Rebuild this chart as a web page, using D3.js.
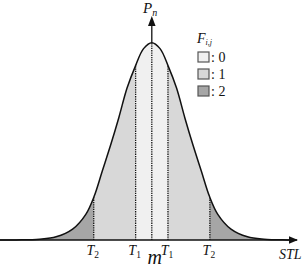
<!DOCTYPE html>
<html>
<head>
<meta charset="utf-8">
<script src="https://cdnjs.cloudflare.com/ajax/libs/d3/7.8.5/d3.min.js"></script>
<style>
	body { margin: 0; background: #fff; }
	svg { display: block; }
	svg text { font-family: "Liberation Serif", "DejaVu Serif", serif; fill: #111; }
</style>
</head>
<body>
<svg width="303" height="271"></svg>
<script>

// courbe (STL en unites de sigma, Pn normalise au pic)
var stlValues = [-4.6, -4.1, -3.4, -2.9, -2.4, -2.0, -1.75, -1.5, -1.25, -1.0, -0.75, -0.5, -0.25, 0,
                 0.25, 0.5, 0.75, 1.0, 1.25, 1.5, 1.75, 2.0, 2.4, 2.9, 3.4, 4.1, 4.4];
var pnValues  = [0, 0.0005, 0.004, 0.016, 0.055, 0.13, 0.22, 0.35, 0.48, 0.62, 0.77, 0.88, 0.97, 1.0,
                 0.97, 0.88, 0.77, 0.62, 0.48, 0.35, 0.22, 0.13, 0.055, 0.016, 0.004, 0.0005, 0.0002];

// seuils T2 T1 T1 T2
var thresholdValues = [-1.76, -0.49, 0.49, 1.76];
var thresholdSubs   = ["2", "1", "1", "2"];

// zones F_i,j
var zoneBounds = [-4.6, -1.76, -0.49, 0.49, 1.76, 4.4];
var zoneClass  = [2, 1, 0, 1, 2];
var legendClasses = [0, 1, 2];

window.onload = function () {
	start();
}

function start() {
	var svg = d3.select("svg");
	var axisY = 240;
	var serif = "'Liberation Serif', 'DejaVu Serif', serif";

	var x = d3.scaleLinear().domain([-4.6, 4.4]).range([0, 297]);
	var y = d3.scaleLinear().domain([0, 1]).range([axisY, 42.7]);

	var color = d3.scaleOrdinal()
	    .domain([0, 1, 2])
	    .range(["#f0f0f0", "#d8d8d8", "#a6a6a6"]);

	var points = stlValues.map(function(v, i) { return [v, pnValues[i]]; });

	var area = d3.area()
	    .x(function(d) { return x(d[0]); })
	    .y0(axisY)
	    .y1(function(d) { return y(d[1]); })
	    .curve(d3.curveCatmullRom);

	var line = d3.line()
	    .x(function(d) { return x(d[0]); })
	    .y(function(d) { return y(d[1]); })
	    .curve(d3.curveCatmullRom);

	svg.append("clipPath")
	    .attr("id", "under")
	  .append("path")
	    .attr("d", area(points));

	var g = svg.append("g").attr("clip-path", "url(#under)");

	// les zones
	g.selectAll("rect.zone")
	    .data(zoneClass)
	    .enter().append("rect")
	    .attr("class", "zone")
	    .attr("x", function(d, i) { return x(zoneBounds[i]); })
	    .attr("width", function(d, i) { return x(zoneBounds[i + 1]) - x(zoneBounds[i]); })
	    .attr("y", 0)
	    .attr("height", axisY)
	    .style("fill", function(d) { return color(d); });

	// pointilles (seuils + moyenne)
	g.selectAll("line.seuil")
	    .data(thresholdValues.concat([0]))
	    .enter().append("line")
	    .attr("class", "seuil")
	    .attr("x1", function(d) { return x(d); })
	    .attr("x2", function(d) { return x(d); })
	    .attr("y1", axisY)
	    .attr("y2", 0)
	    .style("stroke", "#111")
	    .style("stroke-width", 1.3)
	    .style("stroke-dasharray", "1.3,1");

	svg.append("path")
	    .attr("d", line(points))
	    .style("fill", "none")
	    .style("stroke", "#111")
	    .style("stroke-width", 1.5);

	// axes + fleches
	svg.append("line")
	    .attr("x1", 0).attr("x2", 291)
	    .attr("y1", axisY).attr("y2", axisY)
	    .style("stroke", "#111").style("stroke-width", 1.4);
	svg.append("path")
	    .attr("d", "M298," + axisY + "L289," + (axisY - 3.8) + "L289," + (axisY + 3.8) + "Z")
	    .style("fill", "#111");

	svg.append("line")
	    .attr("x1", x(0)).attr("x2", x(0))
	    .attr("y1", y(1)).attr("y2", 24)
	    .style("stroke", "#111").style("stroke-width", 1.3);
	svg.append("path")
	    .attr("d", "M" + x(0) + ",16L" + (x(0) - 3.8) + ",26L" + (x(0) + 3.8) + ",26Z")
	    .style("fill", "#111");

	// labels T
	var tl = svg.selectAll("text.tick")
	    .data(thresholdValues)
	    .enter().append("text")
	    .attr("class", "tick")
	    .attr("x", function(d) { return x(d) - 1; })
	    .attr("y", 255)
	    .attr("text-anchor", "middle")
	    .style("font-family", serif)
	    .style("font-size", "14px");
	tl.append("tspan").style("font-style", "italic").text("T");
	tl.append("tspan").attr("dy", 2.5).style("font-size", "9.5px")
	    .text(function(d, i) { return thresholdSubs[i]; });

	svg.append("text")
	    .attr("x", x(0) + 3).attr("y", 264)
	    .attr("text-anchor", "middle")
	    .style("font-family", serif)
	    .style("font-size", "20px").style("font-style", "italic")
	    .text("m");

	svg.append("text")
	    .attr("x", 279).attr("y", 259)
	    .style("font-family", serif)
	    .style("font-size", "14px").style("font-style", "italic")
	    .text("STL");

	var pn = svg.append("text")
	    .attr("x", 143).attr("y", 13)
	    .style("font-family", serif)
	    .style("font-size", "15px");
	pn.append("tspan").style("font-style", "italic").text("P");
	pn.append("tspan").attr("dy", 3).style("font-size", "10px").style("font-style", "italic").text("n");

	// legende
	var fl = svg.append("text")
	    .attr("x", 197).attr("y", 42.5)
	    .style("font-family", serif)
	    .style("font-size", "14px");
	fl.append("tspan").style("font-style", "italic").text("F");
	fl.append("tspan").attr("dy", 2.5).style("font-size", "8px").style("font-style", "italic").text("i,j");

	var leg = svg.selectAll("g.leg")
	    .data(legendClasses)
	    .enter().append("g")
	    .attr("class", "leg")
	    .attr("transform", function(d, i) { return "translate(198," + (52 + i * 17) + ")"; });
	leg.append("rect")
	    .attr("width", 11).attr("height", 10)
	    .style("fill", function(d) { return color(d); })
	    .style("stroke", "#555").style("stroke-width", 1.2);
	leg.append("text")
	    .attr("x", 13).attr("y", 9.5)
	    .style("font-family", serif)
	    .style("font-size", "14px")
	    .text(function(d) { return ": " + d; });
}
</script>
</body>
</html>
